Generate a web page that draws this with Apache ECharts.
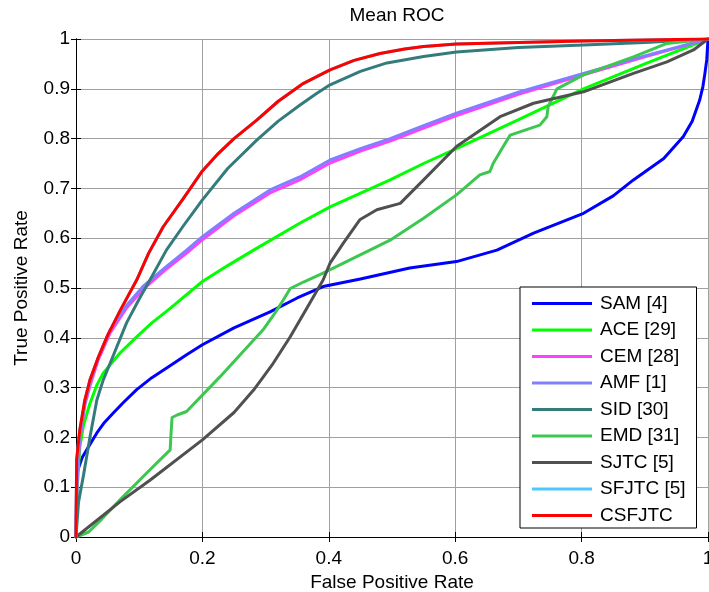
<!DOCTYPE html>
<html>
<head>
<meta charset="utf-8">
<script src="https://cdn.jsdelivr.net/npm/echarts@6/dist/echarts.min.js"></script>
<style>
  html, body { margin: 0; padding: 0; background: #fff; }
  #chart { width: 709px; height: 592px; }
</style>
</head>
<body>
<div id="chart"></div>
<script>
// legend names, in drawing order (last one on top)
var names = ['SAM [4]', 'ACE [29]', 'CEM [28]', 'AMF [1]', 'SID [30]', 'EMD [31]', 'SJTC [5]', 'SFJTC [5]', 'CSFJTC'];
var colors = ['#0000ff', '#00ff00', '#ff40ff', '#8080ff', '#347c7c', '#3cc850', '#505050', '#4cc8ff', '#ff0000'];

// [false positive rate, true positive rate]
var sam = [[0, 0], [0.001, 0.12], [0.003, 0.135], [0.01, 0.16], [0.017, 0.175], [0.033, 0.209], [0.045, 0.23], [0.059, 0.249],
  [0.075, 0.27], [0.096, 0.296], [0.12, 0.32], [0.15, 0.345], [0.175, 0.366], [0.2, 0.386], [0.25, 0.42], [0.307, 0.452],
  [0.35, 0.48], [0.391, 0.503], [0.45, 0.518], [0.528, 0.54], [0.602, 0.553], [0.666, 0.576], [0.724, 0.61], [0.803, 0.65],
  [0.85, 0.685], [0.882, 0.717], [0.93, 0.76], [0.961, 0.804], [0.975, 0.835], [0.987, 0.878], [0.992, 0.905], [0.995, 0.93],
  [0.998, 0.958], [1, 1]];
var ace = [[0, 0], [0.002, 0.1], [0.006, 0.18], [0.012, 0.225], [0.022, 0.268], [0.033, 0.305], [0.043, 0.329], [0.07, 0.37],
  [0.096, 0.402], [0.12, 0.43], [0.15, 0.46], [0.2, 0.513], [0.24, 0.545], [0.281, 0.576], [0.354, 0.63], [0.402, 0.663],
  [0.497, 0.717], [0.55, 0.75], [0.602, 0.78], [0.702, 0.839], [0.803, 0.9], [0.9, 0.95], [1, 1]];
var cem = [[0, 0], [0.002, 0.125], [0.006, 0.195], [0.014, 0.265], [0.022, 0.303], [0.035, 0.355], [0.054, 0.41], [0.08, 0.46],
  [0.106, 0.497], [0.14, 0.535], [0.175, 0.57], [0.2, 0.597], [0.25, 0.645], [0.307, 0.691], [0.354, 0.717], [0.402, 0.751],
  [0.45, 0.775], [0.497, 0.795], [0.55, 0.821], [0.602, 0.846], [0.7, 0.889], [0.803, 0.928], [0.9, 0.964], [1, 1]];
var amf = [[0, 0], [0.002, 0.13], [0.006, 0.2], [0.014, 0.27], [0.022, 0.309], [0.035, 0.36], [0.054, 0.416], [0.08, 0.465],
  [0.106, 0.503], [0.14, 0.54], [0.175, 0.576], [0.2, 0.603], [0.25, 0.65], [0.307, 0.697], [0.354, 0.723], [0.402, 0.757],
  [0.45, 0.78], [0.497, 0.8], [0.55, 0.826], [0.602, 0.851], [0.7, 0.893], [0.803, 0.931], [0.9, 0.966], [1, 1]];
var sid = [[0, 0], [0.004, 0.07], [0.012, 0.125], [0.022, 0.2], [0.033, 0.275], [0.043, 0.315], [0.054, 0.349], [0.08, 0.43],
  [0.1, 0.478], [0.117, 0.516], [0.143, 0.576], [0.17, 0.625], [0.2, 0.677], [0.24, 0.74], [0.286, 0.797], [0.32, 0.835],
  [0.354, 0.867], [0.38, 0.89], [0.402, 0.908], [0.45, 0.935], [0.492, 0.952], [0.55, 0.965], [0.602, 0.974], [0.7, 0.983],
  [0.803, 0.988], [0.9, 0.993], [1, 1]];
var emd = [[0, 0], [0.02, 0.01], [0.04, 0.035], [0.07, 0.075], [0.117, 0.135], [0.149, 0.175], [0.15, 0.2], [0.152, 0.24],
  [0.16, 0.245], [0.175, 0.252], [0.228, 0.322], [0.296, 0.416], [0.315, 0.45], [0.328, 0.476], [0.339, 0.499], [0.36, 0.512],
  [0.391, 0.53], [0.465, 0.576], [0.497, 0.596], [0.55, 0.64], [0.602, 0.687], [0.639, 0.727], [0.655, 0.734], [0.66, 0.75],
  [0.676, 0.784], [0.687, 0.807], [0.734, 0.827], [0.745, 0.844], [0.747, 0.864], [0.761, 0.9], [0.803, 0.928], [0.882, 0.964],
  [0.935, 0.991], [1, 1]];
var sjtc = [[0, 0], [0.07, 0.071], [0.117, 0.114], [0.2, 0.195], [0.25, 0.25], [0.281, 0.295], [0.31, 0.345], [0.339, 0.402],
  [0.37, 0.47], [0.391, 0.516], [0.402, 0.55], [0.423, 0.59], [0.449, 0.637], [0.476, 0.657], [0.513, 0.67], [0.55, 0.717],
  [0.602, 0.784], [0.671, 0.844], [0.724, 0.871], [0.803, 0.894], [0.882, 0.931], [0.935, 0.954], [0.977, 0.978], [1, 1]];
var sfjtc = [[0, 0], [0.001, 0.155], [0.006, 0.215], [0.014, 0.275], [0.022, 0.315], [0.035, 0.36], [0.05, 0.405], [0.07, 0.455],
  [0.096, 0.516], [0.115, 0.57], [0.138, 0.623], [0.17, 0.68], [0.2, 0.735], [0.225, 0.77], [0.25, 0.8], [0.286, 0.837],
  [0.32, 0.875], [0.36, 0.911], [0.402, 0.938], [0.44, 0.957], [0.481, 0.971], [0.52, 0.98], [0.55, 0.985], [0.602, 0.99],
  [0.7, 0.993], [0.8, 0.996], [1, 1]];
var csfjtc = [[0, 0], [0.001, 0.155], [0.006, 0.215], [0.014, 0.275], [0.022, 0.315], [0.035, 0.36], [0.05, 0.405], [0.07, 0.455],
  [0.096, 0.516], [0.115, 0.57], [0.138, 0.623], [0.17, 0.68], [0.2, 0.735], [0.225, 0.77], [0.25, 0.8], [0.286, 0.837],
  [0.32, 0.875], [0.36, 0.911], [0.402, 0.938], [0.44, 0.957], [0.481, 0.971], [0.52, 0.98], [0.55, 0.985], [0.602, 0.99],
  [0.7, 0.993], [0.8, 0.996], [1, 1]];

var curves = [sam, ace, cem, amf, sid, emd, sjtc, sfjtc, csfjtc];

var font = 'Liberation Sans, Arial, sans-serif';
var fs = 19;
var myChart = echarts.init(document.getElementById('chart'), null, { renderer: 'canvas' });

var series = curves.map(function (c, i) {
  return {
    name: names[i],
    type: 'line',
    data: c,
    showSymbol: false,
    smooth: false,
    lineStyle: { width: 3, color: colors[i], join: 'round', cap: 'round' },
    itemStyle: { color: colors[i] },
    emphasis: { disabled: true },
    animation: false
  };
});

// ticks drawn inside, like the original plot box
var tickStyle = { show: true, inside: true, length: 5, lineStyle: { color: '#000' } };

myChart.setOption({
  backgroundColor: '#fff',
  title: {
    text: 'Mean ROC',
    left: 392,
    textAlign: 'center',
    top: 1,
    textStyle: { fontFamily: font, fontSize: fs, fontWeight: 'normal', color: '#000' }
  },
  grid: { left: 76, right: 1, top: 39, bottom: 55, containLabel: false, outerBoundsMode: 'none' },
  legend: {
    orient: 'vertical',
    left: 520,
    top: 287,
    data: names,
    icon: 'rect',
    itemWidth: 60,
    itemHeight: 3,
    itemGap: 5.5,
    padding: [6, 11, 2, 12],
    borderColor: '#000',
    borderWidth: 1,
    backgroundColor: '#fff',
    selectedMode: false,
    textStyle: { fontFamily: font, fontSize: fs, color: '#000', lineHeight: 21, padding: [0, 0, 0, 3] }
  },
  xAxis: [{
    type: 'value', min: 0, max: 1, interval: 0.2,
    name: 'False Positive Rate', nameLocation: 'middle', nameGap: 32,
    nameTextStyle: { fontFamily: font, fontSize: fs, color: '#000' },
    axisLine: { lineStyle: { color: '#000', width: 1 } },
    axisTick: tickStyle,
    axisLabel: { fontFamily: font, fontSize: fs, color: '#000', margin: 12 },
    splitLine: { show: true, lineStyle: { color: '#a0a0a0', width: 1 } }
  }, {
    type: 'value', min: 0, max: 1, interval: 0.2, position: 'top',
    axisLine: { show: true, lineStyle: { color: '#000', width: 1 } },
    axisTick: tickStyle, axisLabel: { show: false }, splitLine: { show: false }
  }],
  yAxis: [{
    type: 'value', min: 0, max: 1, interval: 0.1,
    name: 'True Positive Rate', nameLocation: 'middle', nameGap: 45,
    nameTextStyle: { fontFamily: font, fontSize: fs, color: '#000' },
    axisLine: { show: true, lineStyle: { color: '#000', width: 1 } },
    axisTick: tickStyle,
    axisLabel: { fontFamily: font, fontSize: fs, color: '#000', margin: 6 },
    splitLine: { show: true, lineStyle: { color: '#a0a0a0', width: 1 } }
  }, {
    type: 'value', min: 0, max: 1, interval: 0.1, position: 'right',
    axisLine: { show: true, lineStyle: { color: '#000', width: 1 } },
    axisTick: tickStyle, axisLabel: { show: false }, splitLine: { show: false }
  }],
  series: series
});
</script>
</body>
</html>
